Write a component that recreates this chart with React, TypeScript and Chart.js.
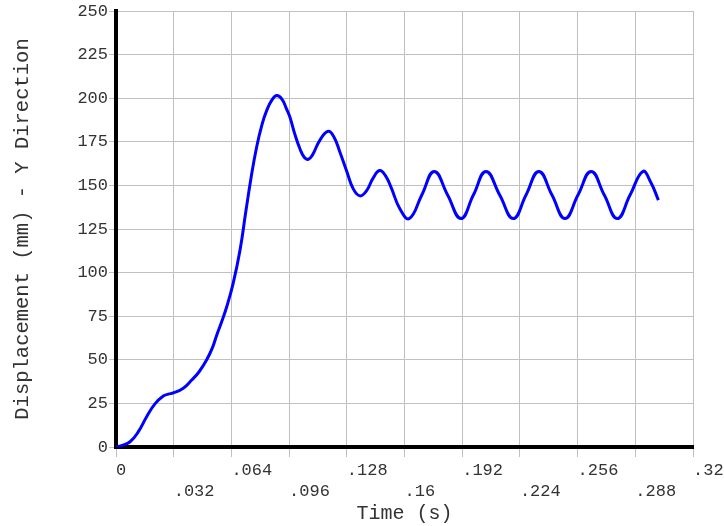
import React, { useEffect, useRef } from 'react';
import { Chart, registerables } from 'chart.js';

Chart.register(...registerables);

const timeValues: number[] = [
  0, 0.003, 0.0078, 0.0124, 0.017, 0.0216, 0.0262, 0.029, 0.0318, 0.0373,
  0.042, 0.046, 0.0503, 0.0535, 0.0558, 0.0585, 0.0614, 0.065, 0.0688, 0.072,
  0.075, 0.078, 0.081, 0.0836, 0.0865, 0.0891, 0.092, 0.0945, 0.0965, 0.099,
  0.102, 0.1045, 0.1067, 0.109, 0.1131, 0.1177, 0.121, 0.1242, 0.128, 0.1316,
  0.1353, 0.139, 0.1425, 0.1462, 0.1495, 0.1525, 0.1575, 0.1627, 0.1696, 0.1765,
  0.1839, 0.1913, 0.1982, 0.2052, 0.2128, 0.2203, 0.2274, 0.2345, 0.2418, 0.249,
  0.2562, 0.2635, 0.2708, 0.278, 0.2851, 0.2922, 0.2965, 0.3008,
];

const displacementValues: number[] = [
  0, 0.8, 3.0, 8.8, 17.4, 24.7, 29.2, 30.3, 31.0, 33.7,
  38.4, 43, 50, 57, 64, 71.5, 80.4, 94, 113, 135,
  155, 172, 185, 193, 199, 201.5, 199.5, 194, 189, 180,
  171, 166, 165, 167.5, 176, 181, 177.5, 169, 158, 148,
  144, 147, 154, 158.5, 155.5, 149, 136.5, 131, 144.5, 158,
  144.5, 131, 144.5, 158, 144.5, 131, 144.5, 158, 144.5, 131,
  144.5, 158, 144.5, 131, 144.5, 158, 152, 141.6,
];

const xTickValues: number[] = [0, 0.032, 0.064, 0.096, 0.128, 0.16, 0.192, 0.224, 0.256, 0.288, 0.32];
const xTickLabels: string[] = ['0', '.032', '.064', '.096', '.128', '.16', '.192', '.224', '.256', '.288', '.32'];
const yTickStep = 25;
const yMax = 250;

const FONT = "'Liberation Mono', 'Courier New', monospace";

export default function App() {
  const canvasRef = useRef<HTMLCanvasElement | null>(null);

  useEffect(() => {
    if (!canvasRef.current) return;
    const points = timeValues.map((t, i) => ({ x: t, y: displacementValues[i] }));
    const chart = new Chart(canvasRef.current, {
      type: 'line',
      data: {
        datasets: [
          {
            data: points,
            borderColor: '#0000ff',
            borderWidth: 3,
            pointRadius: 0,
            fill: false,
            tension: 0.45,
          },
        ],
      },
      options: {
        responsive: false,
        animation: false,
        layout: { padding: { top: 11, right: 0, left: 0, bottom: 0 } },
        plugins: { legend: { display: false }, tooltip: { enabled: false } },
        scales: {
          x: {
            type: 'linear',
            min: 0,
            max: 0.32,
            afterBuildTicks: (s: any) => {
              s.ticks = xTickValues.map((v) => ({ value: v }));
            },
            afterFit: (s: any) => {
              s.height = 79;
              s.paddingLeft = 0;
              s.paddingRight = 31;
            },
            ticks: {
              align: 'start',
              padding: 3,
              autoSkip: false,
              maxRotation: 0,
              color: '#333',
              font: { family: FONT, size: 17, lineHeight: 1.25 },
              callback: (_v: any, i: number) => (i % 2 ? ['', xTickLabels[i]] : xTickLabels[i]),
            },
            grid: { color: '#c0c0c0', lineWidth: 1, tickLength: 10 },
            border: { display: true, color: '#000', width: 4 },
            title: {
              display: true,
              text: 'Time (s)',
              color: '#333',
              font: { family: FONT, size: 20, lineHeight: 1.2 },
              padding: { top: 0, bottom: 0 },
            },
          },
          y: {
            min: 0,
            max: yMax,
            afterFit: (s: any) => {
              s.width = 116;
              s.paddingTop = 0;
              s.paddingBottom = 0;
            },
            ticks: {
              stepSize: yTickStep,
              padding: 1,
              color: '#333',
              font: { family: FONT, size: 17 },
            },
            grid: { color: '#c0c0c0', lineWidth: 1, tickLength: 7 },
            border: { display: true, color: '#000', width: 4 },
            title: {
              display: true,
              text: 'Displacement (mm) - Y Direction',
              color: '#333',
              font: { family: FONT, size: 20.5, lineHeight: 1.2 },
              padding: { top: 10, bottom: 0 },
            },
          },
        },
      } as any,
    });
    return () => chart.destroy();
  }, []);

  return (
    <div style={{ position: 'fixed', left: 0, top: 0, width: 724, height: 526, background: '#fff' }}>
      <canvas ref={canvasRef} width={724} height={526} style={{ display: 'block' }} />
    </div>
  );
}
